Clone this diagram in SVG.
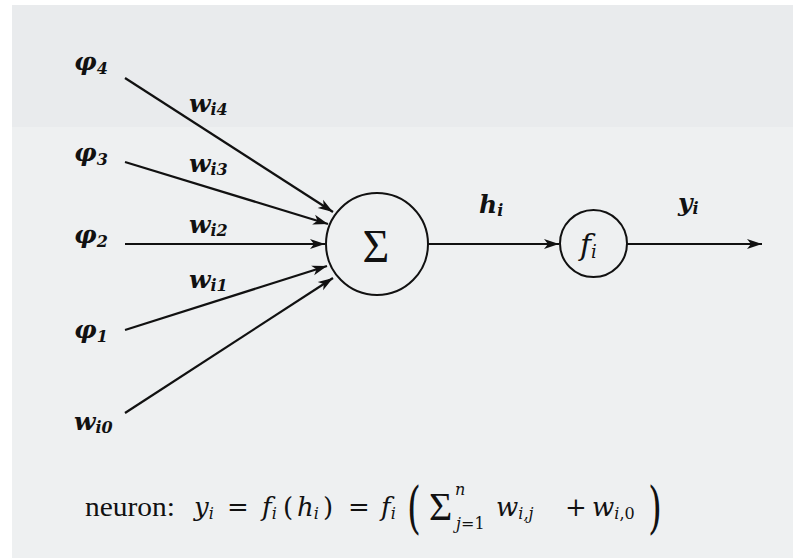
<svg xmlns="http://www.w3.org/2000/svg" width="793" height="558" viewBox="0 0 793 558">
<style>
  .lbl{font-family:"DejaVu Serif","Liberation Serif",serif;font-style:italic;font-weight:bold;font-size:25px;fill:#111}
  .lsub{font-size:16px}
  .eq{font-family:"DejaVu Serif","Liberation Serif",serif;font-size:26px;fill:#111}
  .rm{font-family:"Liberation Serif","Times New Roman",serif}
  .mi{font-style:italic}
  .esub{font-size:16px}
  .edge{stroke:#111;stroke-width:2.2;fill:none;marker-end:url(#arr)}
  .node{fill:none;stroke:#111;stroke-width:2}
</style>
<defs>
  <marker id="arr" markerUnits="userSpaceOnUse" markerWidth="17" markerHeight="12" refX="15" refY="6" orient="auto">
    <path d="M0,1 L15,6 L0,11 L4,6 Z" fill="#111"/>
  </marker>
</defs>
<rect x="0" y="0" width="793" height="558" fill="#ffffff"/>
<rect x="12" y="5" width="781" height="553" fill="#eef0f1"/>
<rect x="12" y="5" width="781" height="122" fill="#e9ebed"/>

<g id="connectors">
  <line class="edge" x1="125" y1="78" x2="333" y2="212"/>
  <line class="edge" x1="125" y1="162" x2="328" y2="224"/>
  <line class="edge" x1="125" y1="244" x2="325" y2="244"/>
  <line class="edge" x1="125" y1="330" x2="327" y2="266"/>
  <line class="edge" x1="125" y1="413" x2="333" y2="278"/>
  <line class="edge" x1="428" y1="244" x2="559" y2="244"/>
  <line class="edge" x1="627" y1="244" x2="762" y2="244"/>
  <text class="lbl" x="189" y="112">w<tspan class="lsub" dy="3">i4</tspan></text>
  <text class="lbl" x="189" y="172">w<tspan class="lsub" dy="3">i3</tspan></text>
  <text class="lbl" x="189" y="233">w<tspan class="lsub" dy="3">i2</tspan></text>
  <text class="lbl" x="189" y="288">w<tspan class="lsub" dy="3">i1</tspan></text>
  <text class="lbl" x="479" y="213">h<tspan class="lsub" dy="3">i</tspan></text>
  <text class="lbl" x="678" y="211">y<tspan class="lsub" dy="3">i</tspan></text>
</g>

<g id="in-phi4"><text class="lbl" x="74" y="70">φ<tspan class="lsub" dy="4">4</tspan></text></g>
<g id="in-phi3"><text class="lbl" x="74" y="161">φ<tspan class="lsub" dy="4">3</tspan></text></g>
<g id="in-phi2"><text class="lbl" x="74" y="243">φ<tspan class="lsub" dy="4">2</tspan></text></g>
<g id="in-phi1"><text class="lbl" x="74" y="338">φ<tspan class="lsub" dy="4">1</tspan></text></g>
<g id="in-wi0"><text class="lbl" x="74" y="430">w<tspan class="lsub" dy="3">i0</tspan></text></g>

<g id="node-sum">
  <circle class="node" cx="377" cy="244" r="51"/>
  <text x="376" y="262" text-anchor="middle" style="font-family:'Liberation Serif','Times New Roman',serif;font-size:46px;fill:#111">Σ</text>
</g>

<g id="node-f">
  <circle class="node" cx="593.5" cy="243.5" r="33.5"/>
  <text class="eq mi" x="580" y="255" style="font-size:30px">f<tspan class="esub" dy="3" style="font-size:18px">i</tspan></text>
</g>

<g id="equation">
  <text class="eq rm" x="85" y="516" style="font-size:27px" textLength="90" lengthAdjust="spacingAndGlyphs">neuron:</text>
  <text class="eq mi" x="194" y="516">y<tspan class="esub" dy="3">i</tspan></text>
  <text class="eq" x="238" y="516" text-anchor="middle">=</text>
  <text class="eq mi" x="262" y="516">f<tspan class="esub" dy="3">i</tspan></text>
  <text class="eq" x="283" y="516">(</text>
  <text class="eq mi" x="297" y="516">h<tspan class="esub" dy="3">i</tspan></text>
  <text class="eq" x="323" y="516">)</text>
  <text class="eq" x="359" y="516" text-anchor="middle">=</text>
  <text class="eq mi" x="381" y="516">f<tspan class="esub" dy="3">i</tspan></text>
  <text class="eq" transform="translate(407,527) scale(0.85,1.35)" x="0" y="0" style="font-size:42px;font-weight:300">(</text>
  <text class="eq rm" x="429" y="520" style="font-size:40px">Σ</text>
  <text class="eq mi esub" x="455" y="495">n</text>
  <text class="eq mi esub" x="456" y="529">j<tspan font-style="normal">=1</tspan></text>
  <text class="eq mi" x="496" y="516">w<tspan class="esub" dy="3">i,j</tspan></text>
  <text class="eq" x="576" y="516" text-anchor="middle">+</text>
  <text class="eq mi" x="592" y="516">w<tspan class="esub" dy="3">i<tspan font-style="normal">,0</tspan></tspan></text>
  <text class="eq" transform="translate(648,527) scale(0.85,1.35)" x="0" y="0" style="font-size:42px;font-weight:300">)</text>
</g>
</svg>
